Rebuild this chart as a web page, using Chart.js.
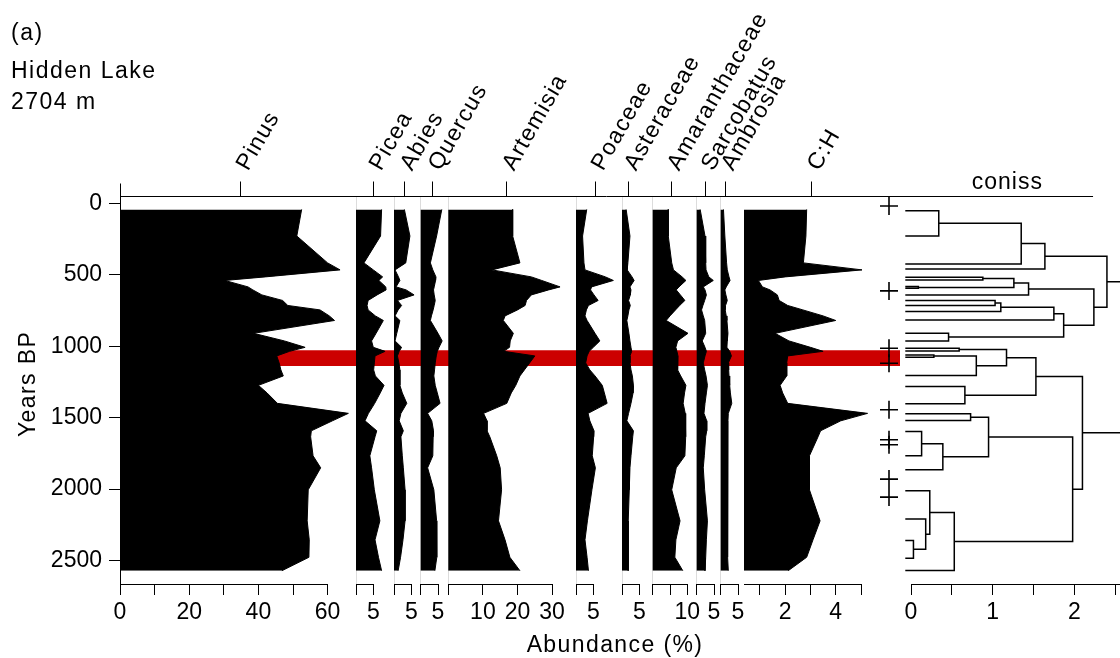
<!DOCTYPE html>
<html><head><meta charset="utf-8">
<script src="https://cdn.jsdelivr.net/npm/chart.js@4/dist/chart.umd.min.js"></script>
<style>html,body{margin:0;padding:0;background:#fff;}canvas{display:block;}</style>
</head><body>
<canvas id="c" width="1120" height="658"></canvas>
<script>
const FONT = '"Liberation Sans", Arial, Helvetica, sans-serif';

// ---------- data ----------
const ages = [43,229,417,466,515,540,585,606,641,680,715,746,788,820,910,963,1008,1036,1068,1117,1166,1208,1274,1327,1400,1470,1522,1592,1634,1767,1851,2005,2222,2355,2477,2571];

const pinus = [52.5,51.1,60,63.6,42,30.3,37,38.4,41,47,48.5,57.8,60.5,62,38.6,47.5,53.5,49,45.3,46,46.5,47.2,40,42.5,45.5,66,61.4,55.3,55.1,55.8,58,54.4,54.1,54.7,54.6,46.8];
const picea = [7.4,7.1,2.3,5.0,7.7,6.6,8.6,8.7,6.1,3.5,3.2,3.5,5.6,7.9,5.8,4.5,5.0,8.4,5.5,5.3,5.1,5.6,8.1,7.0,5.4,3.6,2.6,6.0,5.5,4.0,4.5,5.3,6.9,5.5,6.5,7.4];
const abies = [3.0,4.6,3.4,0.3,1.3,1.7,0.6,3.5,5.8,1.0,2.2,1.2,0.3,1.7,0.8,0.3,2.2,1.5,1.0,1.4,1.7,1.7,1.7,2.4,3.7,2.0,1.5,2.7,2.0,2.4,2.7,3.2,3.2,2.6,1.9,1.2];
const quercus = [6.1,4.6,2.8,3.5,4.4,4.3,3.9,3.7,3.9,4.2,3.9,3.6,3.1,2.8,5.0,6.2,5.3,4.8,4.5,4.2,4.0,3.8,4.2,4.8,5.6,2.0,3.2,3.7,3.6,3.5,2.0,3.8,4.6,4.6,4.7,4.1];
const artemisia = [18.6,18.6,20.7,12.6,24.0,27,32.3,29,24,22.6,22.2,20,16.4,15.9,18.8,17.9,17.7,16,25,23.5,22,20.7,19.5,18.2,16.9,10.2,11.2,11.2,12,14,15.0,15.4,14.5,16.4,17.8,20.7];
const poaceae = [3.1,1.9,2.3,2.6,8.5,10.8,4.5,4.2,5.2,6.4,3.6,3.0,2.6,3.2,5.5,6.9,5.0,3.8,3.2,2.8,4.0,5.5,7.6,8.2,9.0,3.5,4.0,5.2,5.1,4.7,5.6,4.6,3.3,2.6,3.2,3.6];
const asteraceae = [1.2,2.3,1.7,1.5,2.9,3.5,2.3,2.6,2.4,1.9,2.4,2.0,1.7,1.4,2.0,2.3,2.6,2.8,2.3,2.3,2.6,3.0,3.3,3.2,2.6,1.9,1.4,3.3,3.1,2.6,2.3,2.1,1.8,1.8,1.8,1.8];
const amaranthaceae = [4.5,4.5,5.5,6.0,8.5,9.6,7.6,6.8,8.0,9.3,7.8,6.6,5.0,3.9,10.2,7.2,6.7,7.0,7.3,7.3,7.1,8.1,9.6,9.2,8.8,9.4,9.6,9.5,9.5,9.3,6.8,5.5,7.9,6.7,6.4,8.7];
const sarcobatus = [1.0,2.4,2.6,2.7,3.5,4.8,1.9,2.4,2.8,2.3,1.8,1.4,1.9,2.3,2.6,1.6,2.4,2.8,2.4,1.9,2.3,2.7,3.1,2.8,2.4,2.1,2.9,2.9,2.6,2.2,1.9,2.3,3.1,2.8,2.6,2.4];
const ambrosia = [0.8,1.2,1.7,1.9,2.4,2.7,1.6,1.2,1.5,1.9,1.4,1.3,1.6,1.8,2.1,1.9,1.8,2.6,3.1,2.2,2.3,2.4,2.6,2.8,3.2,2.2,2.1,2.0,2.0,1.9,1.9,2.0,2.0,2.1,2.1,2.2];
const chRatio = [2.85,2.82,2.72,5.04,2.0,0.94,1.1,1.4,1.69,1.76,2.1,2.7,3.5,4.0,1.6,2.15,3.0,3.5,2.1,2.06,2.06,2.06,1.8,1.9,2.1,5.26,4.2,3.4,3.3,2.96,2.96,2.96,3.38,3.1,2.85,2.12];

const taxa = ['Pinus','Picea','Abies','Quercus','Artemisia','Poaceae','Asteraceae','Amaranthaceae','Sarcobatus','Ambrosia','C:H'];
const series = [pinus,picea,abies,quercus,artemisia,poaceae,asteraceae,amaranthaceae,sarcobatus,ambrosia,chRatio];

// axis ranges, ticks and tick labels of each panel
const axisMin = [0,0,0,0,0,0,0,0,0,0,0.37];
const axisMax = [60,5,5,5,30,5,5,10,5,5,5];
const tickValues = [[0,10,20,30,40,50,60],[0,5],[0,5],[0,5],[0,10,20,30],[0,5],[0,5],[0,5,10],[0,5],[0,5],[1,2,3,4,5]];
const tickLabels = [['0','','20','','40','','60'],['','5'],['','5'],['','5'],['','10','20','30'],['','5'],['','5'],['','','10'],['','5'],['','5'],['','2','','4','']];
const labelAt = [34.7,5,2.9,3.3,16.9,5.7,1.8,5.3,2.5,1.5,3.06];

const yTicks = [0,500,1000,1500,2000,2500];
const yTickLabels = ['0','500','1000','1500','2000','2500'];

// red highlighted interval (years BP)
const bandAges = [1028, 1139];

// CONISS dendrogram: leaf ages and merges [childA, childB, height]
const conissLeafAge = [52,229,424,459,518,536,583,595,641,681,716,758,816,909,963,1014,1033,1061,1077,1205,1282,1403,1473,1520,1597,1767,1865,2012,2210,2359,2483,2569];
const conissMerges = [
  [0,1,0.34],[32,2,1.35],[33,3,1.64],[4,5,0.88],[6,7,0.09],[35,36,1.26],[37,8,1.44],
  [9,10,1.03],[39,11,1.10],[40,12,1.75],[13,14,0.46],[41,42,1.87],[38,43,2.24],[34,44,2.40],
  [15,16,0.59],[17,18,0.28],[47,19,0.80],[46,48,1.17],[20,21,0.66],[49,50,1.53],
  [22,23,0.73],[24,25,0.13],[53,26,0.39],[52,54,0.95],[29,30,0.03],[28,56,0.18],[27,57,0.23],[58,31,0.53],
  [55,59,1.98],[51,60,2.10],[45,61,3.0]
];
const conissLeafHeight = -0.07;
const conissTicks = [0,0.5,1,1.5,2,2.5];
const conissTickLabels = ['0','','1','','2',''];

// zone boundaries (+ markers)
const zoneAges = [19,613,1014,1119,1445,1655,1690,1930,2056];

// ---------- layout (pixels) ----------
const panelPx = [[120,327.6],[356,373.3],[394,411.3],[420.7,438],[448.3,552.1],[576,593.3],[622,639.3],[652.7,687.3],[696.7,714],[720.7,738],[744,861]];
const conissPx = [911,1120];
const zonePx = [861,911];
const fullPx = [120,1120];

const tickFont = {family: FONT, size: 23};

const scales = {};
scales.y = {
  type:'linear', axis:'y', position:'left', reverse:true, min:-51, max:2664,
  afterBuildTicks: s => { s.ticks = yTicks.map(v => ({value:v})); },
  afterFit: s => { s.width = 120; s.paddingTop = 0; s.paddingBottom = 0; },
  grid: {drawOnChartArea:false, tickLength:11, tickColor:'#000', color:'#000'},
  border: {color:'#000', width:1},
  ticks: {font: tickFont, color:'#000', padding:7, callback: (v, idx) => yTickLabels[idx]}
};
scales.xFull = {type:'linear', axis:'x', position:'bottom', display:false, min:0, max:1};

let cursor = panelPx[0][0];
function spacer(w){ return {type:'linear', axis:'x', position:'bottom', display:false, stack:'panels', stackWeight:w, min:0, max:1}; }
taxa.forEach((t,i) => {
  const [l,r] = panelPx[i];
  if (l > cursor + 0.01) scales['gap'+i] = spacer(l - cursor);
  scales['x'+i] = {
    type:'linear', axis:'x', position:'bottom', stack:'panels', stackWeight: r - l,
    min: axisMin[i], max: axisMax[i],
    afterBuildTicks: s => { s.ticks = tickValues[i].map(v => ({value:v})); },
    afterFit: s => { s.height = 74; s.paddingLeft = 0; s.paddingRight = 0; },
    grid: {
      drawOnChartArea: i !== 0 && i !== 10,
      color: c => (c.tick && c.tick.value === 0) ? '#dcdcdc' : 'rgba(0,0,0,0)',
      tickColor:'#000', tickLength:11, lineWidth:1
    },
    border: {color:'#000', width:1},
    ticks: {font: tickFont, color:'#000', padding:4, autoSkip:false, maxRotation:0, minRotation:0,
            callback: (v, idx) => tickLabels[i][idx]}
  };
  cursor = r;
});
scales.xZones = spacer(conissPx[0] - cursor);
scales.xConiss = {
  type:'linear', axis:'x', position:'bottom', stack:'panels', stackWeight: conissPx[1]-conissPx[0],
  min:0, max:2.56,
  afterBuildTicks: s => { s.ticks = conissTicks.map(v => ({value:v})); },
  afterFit: s => { s.height = 74; s.paddingLeft = 0; s.paddingRight = 0; },
  grid: {drawOnChartArea:false, tickColor:'#000', tickLength:11},
  border: {color:'#000', width:1},
  ticks: {font: tickFont, color:'#000', padding:4, autoSkip:false, maxRotation:0, minRotation:0,
          callback: (v, idx) => conissTickLabels[idx]}
};

// ---------- datasets ----------
const datasets = [];
datasets.push({type:'line', xAxisID:'xFull', yAxisID:'y', data:[{x:0,y:bandAges[0]},{x:0.78,y:bandAges[0]}],
  borderWidth:0, pointRadius:0, fill:false, order:10, clip:false});
datasets.push({type:'line', xAxisID:'xFull', yAxisID:'y', data:[{x:0,y:bandAges[1]},{x:0.78,y:bandAges[1]}],
  borderWidth:0, pointRadius:0, fill:'-1', backgroundColor:'#cc0000', order:10, clip:false});

taxa.forEach((t,i) => {
  datasets.push({
    type:'line', label:t, indexAxis:'y', xAxisID:'x'+i, yAxisID:'y',
    data: ages.map((a,k) => ({x: series[i][k], y: a})),
    borderColor:'#000', backgroundColor:'#000', borderWidth:1, pointRadius:0,
    fill:'origin', tension:0, clip:false, order:1
  });
});

const nodeAge = conissLeafAge.slice();
const nodeH = conissLeafAge.map(() => conissLeafHeight);
conissMerges.forEach(([a,b,h]) => {
  datasets.push({
    type:'line', xAxisID:'xConiss', yAxisID:'y',
    data:[{x:nodeH[a],y:nodeAge[a]},{x:h,y:nodeAge[a]},{x:h,y:nodeAge[b]},{x:nodeH[b],y:nodeAge[b]}],
    borderColor:'#000', borderWidth:1.5, pointRadius:0, fill:false, tension:0, clip:false, order:0
  });
  nodeAge.push((nodeAge[a]+nodeAge[b])/2);
  nodeH.push(h);
});

datasets.push({
  type:'scatter', xAxisID:'xZones', yAxisID:'y',
  data: zoneAges.map(a => ({x:0.56, y:a})),
  pointStyle:'cross', pointRadius:9, pointBorderWidth:1.6, borderColor:'#000', backgroundColor:'#000',
  clip:false, order:-1
});

// ---------- plugins ----------
// pin the side-by-side panel axes to their exact pixel columns
const pinPanels = {
  id:'pinPanels',
  afterLayout(chart){
    const sc = chart.scales;
    const set = (id, l, r) => { const s = sc[id]; if (!s) return; s.left = l; s.right = r; s.width = r - l; s.configure(); };
    taxa.forEach((t,i) => set('x'+i, panelPx[i][0], panelPx[i][1]));
    set('xZones', zonePx[0], zonePx[1]);
    set('xConiss', conissPx[0], conissPx[1]);
    set('xFull', fullPx[0], fullPx[1]);
  }
};

function spacedText(ctx, txt, x, y, sp){ ctx.letterSpacing = sp + 'px'; ctx.fillText(txt, x, y); ctx.letterSpacing = '0px'; }
const decor = {
  id:'decor',
  afterDraw(chart){
    const {ctx, chartArea:ca, scales:sc} = chart;
    ctx.save();
    ctx.strokeStyle = '#000'; ctx.fillStyle = '#000'; ctx.lineWidth = 1;
    const top = Math.round(ca.top - 0.5) + 0.5;
    const lx = Math.round(ca.left - 0.5) + 0.5;
    ctx.beginPath(); ctx.moveTo(lx, top - 13); ctx.lineTo(lx, top); ctx.stroke();
    ctx.beginPath(); ctx.moveTo(ca.left, top); ctx.lineTo(sc.xConiss.getPixelForValue(2.23), top); ctx.stroke();
    ctx.font = '23px ' + FONT;
    taxa.forEach((t,i) => {
      const px = Math.round(sc['x'+i].getPixelForValue(labelAt[i]) - 0.5) + 0.5;
      ctx.beginPath(); ctx.moveTo(px, top); ctx.lineTo(px, top - 15); ctx.stroke();
      ctx.save(); ctx.translate(px + 2, top - 28); ctx.rotate(-Math.PI/3);
      ctx.textAlign = 'left'; ctx.textBaseline = 'middle';
      spacedText(ctx, t, 0, 0, 1.2);
      ctx.restore();
    });
    ctx.textAlign = 'center'; ctx.textBaseline = 'alphabetic';
    spacedText(ctx, 'coniss', sc.xConiss.getPixelForValue(1.18), 189, 1);
    ctx.textAlign = 'left';
    spacedText(ctx, '(a)', 11, 40, 1.5);
    spacedText(ctx, 'Hidden Lake', 11, 77.5, 1.5);
    spacedText(ctx, '2704 m', 11, 108.5, 1.5);
    ctx.textAlign = 'center';
    spacedText(ctx, 'Abundance (%)', 615, 652, 1.4);
    ctx.save(); ctx.translate(35, 384); ctx.rotate(-Math.PI/2);
    spacedText(ctx, 'Years BP', 0, 0, 1.4);
    ctx.restore();
    ctx.restore();
  }
};

new Chart(document.getElementById('c'), {
  type:'line',
  data:{datasets},
  options:{
    responsive:false, animation:false, events:[],
    layout:{padding:{top:196, left:0, right:0, bottom:0}},
    plugins:{legend:{display:false}, tooltip:{enabled:false}, title:{display:false}},
    scales
  },
  plugins:[pinPanels, decor]
});
</script>
</body></html>
